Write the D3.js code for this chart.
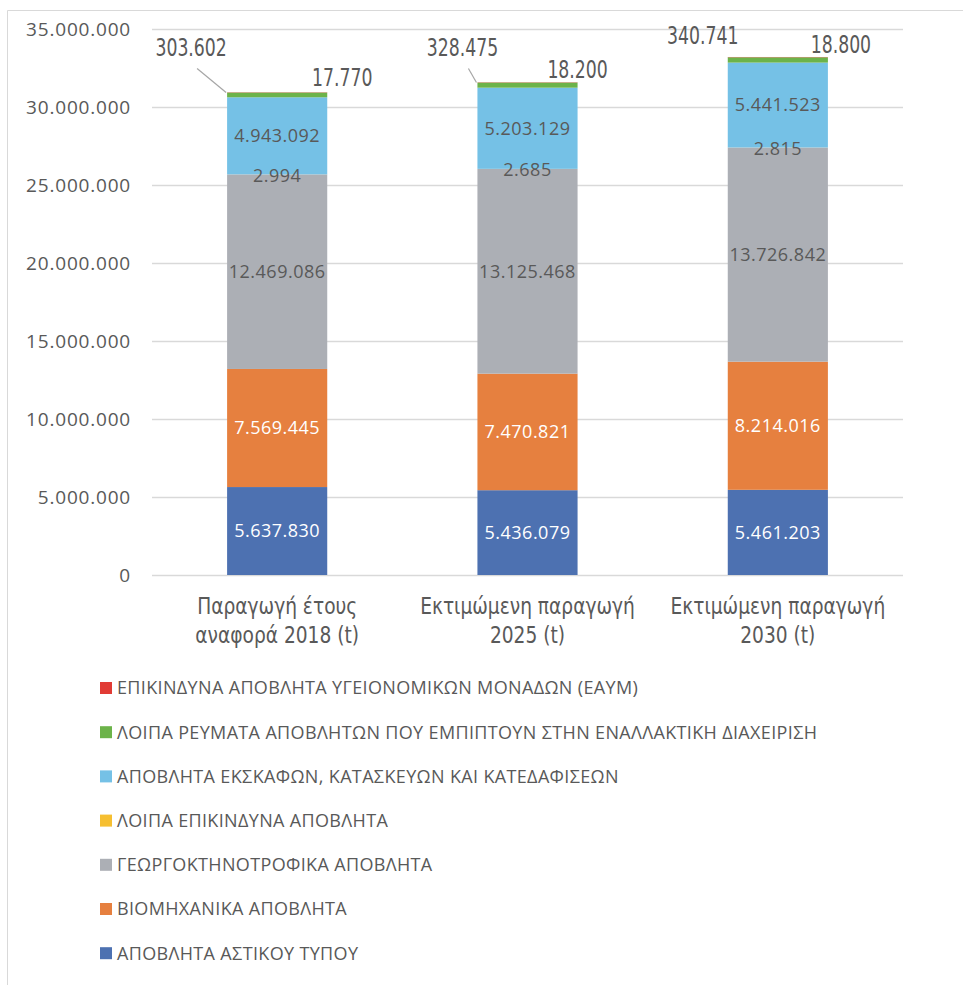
<!DOCTYPE html>
<html><head><meta charset="utf-8">
<script src="https://cdn.jsdelivr.net/npm/d3@7"></script>
<style>body{margin:0;background:#fff}svg{display:block}</style>
</head><body>
<script>
const categories = [["Παραγωγή έτους","αναφορά 2018 (t)"],["Εκτιμώμενη παραγωγή","2025 (t)"],["Εκτιμώμενη παραγωγή","2030 (t)"]];
const seriesNames = ["ΑΠΟΒΛΗΤΑ ΑΣΤΙΚΟΥ ΤΥΠΟΥ","ΒΙΟΜΗΧΑΝΙΚΑ ΑΠΟΒΛΗΤΑ","ΓΕΩΡΓΟΚΤΗΝΟΤΡΟΦΙΚΑ ΑΠΟΒΛΗΤΑ","ΛΟΙΠΑ ΕΠΙΚΙΝΔΥΝΑ ΑΠΟΒΛΗΤΑ","ΑΠΟΒΛΗΤΑ ΕΚΣΚΑΦΩΝ, ΚΑΤΑΣΚΕΥΩΝ ΚΑΙ ΚΑΤΕΔΑΦΙΣΕΩΝ","ΛΟΙΠΑ ΡΕΥΜΑΤΑ ΑΠΟΒΛΗΤΩΝ ΠΟΥ ΕΜΠΙΠΤΟΥΝ ΣΤΗΝ ΕΝΑΛΛΑΚΤΙΚΗ ΔΙΑΧΕΙΡΙΣΗ","ΕΠΙΚΙΝΔΥΝΑ ΑΠΟΒΛΗΤΑ ΥΓΕΙΟΝΟΜΙΚΩΝ ΜΟΝΑΔΩΝ (ΕΑΥΜ)"];
const astikou = [5637830, 5436079, 5461203];
const viomichanika = [7569445, 7470821, 8214016];
const georgo = [12469086, 13125468, 13726842];
const loipaEpik = [2994, 2685, 2815];
const ekskafon = [4943092, 5203129, 5441523];
const loipaRevmata = [303602, 328475, 340741];
const eaym = [17770, 18200, 18800];
const yTicks = [0,5000000,10000000,15000000,20000000,25000000,30000000,35000000];

const colors = ["#4D71B1","#E6803F","#ACAFB5","#F6BF31","#75C1E6","#6CB34A","#E13B35"];
const labelColors = ["#fff","#fff","#595959","#595959","#595959","#595959","#595959"];
const values = [astikou, viomichanika, georgo, loipaEpik, ekskafon, loipaRevmata, eaym];

const W=963,H=985;
const svg=d3.select("body").append("svg").attr("width",W).attr("height",H);
svg.append("rect").attr("width",W).attr("height",H).attr("fill","#fff");
svg.append("path").attr("d","M7.5,"+H+"V10.5H"+W).attr("fill","none").attr("stroke","#d9d9d9").attr("stroke-width",1);

const x=d3.scaleBand().domain(d3.range(3)).range([152,903]).paddingInner(0.6).paddingOuter(0.3);
const y=d3.scaleLinear().domain([0,35000000]).range([575,29]);
const fmt=v=>d3.format(",")(v).replace(/,/g,".");
const fontMain="'Open Sans', 'Noto Sans', sans-serif";
const fontNarrow="'Liberation Sans Narrow','DejaVu Sans Condensed', sans-serif";

svg.append("g").selectAll("line").data(yTicks).join("line")
 .attr("x1",152).attr("x2",903).attr("y1",d=>Math.round(y(d))+0.5).attr("y2",d=>Math.round(y(d))+0.5)
 .attr("stroke","#d9d9d9").attr("stroke-width",1.3);
const yAxis=d3.axisLeft(y).tickValues(yTicks).tickFormat(fmt).tickSize(0).tickPadding(0);
const ga=svg.append("g").attr("transform","translate(131,0)").call(yAxis);
ga.select(".domain").remove();
ga.selectAll("text").attr("font-family",fontMain).attr("font-size",19).attr("letter-spacing","0.8px").attr("fill","#595959").attr("dy","0.35em");

const rows=d3.range(3).map(i=>{const o={i};values.forEach((s,k)=>o[k]=s[i]);return o;});
const stack=d3.stack().keys(d3.range(7))(rows);
const g=svg.append("g");
stack.forEach((layer,k)=>{
  g.selectAll(null).data(layer).join("rect")
   .attr("x",d=>x(d.data.i)).attr("width",x.bandwidth())
   .attr("y",d=>y(d[1])).attr("height",d=>Math.max(0,y(d[0])-y(d[1])))
   .attr("fill",colors[k]);
});
for(let k=0;k<5;k++){
  g.selectAll(null).data(stack[k]).join("text")
   .attr("x",d=>x(d.data.i)+x.bandwidth()/2)
   .attr("y",d=>k===3?y(d[1])+1:(y(d[0])+y(d[1]))/2)
   .attr("dy","0.35em").attr("text-anchor","middle")
   .attr("font-family",fontMain).attr("font-size",18).attr("letter-spacing","0.5px").attr("fill",labelColors[k])
   .text(d=>fmt(d.data[k]));
}
const greenOff=[[-36,-45,true],[-15,-35,true],[-25,-22,false]];
const redOff=[[15,-15],[0,-13],[13,-12]];
function narrowText(px,py,txt){
  svg.append("text").attr("transform",`translate(${px},${py}) scale(0.8,1)`).attr("dy","0.35em").attr("text-anchor","middle")
   .attr("font-family",fontNarrow).attr("font-size",24).attr("fill","#595959").text(txt);
}
stack[5].forEach((d,i)=>{
  const bx=x(i), by=y(d[1]);
  const lx=bx+greenOff[i][0], ly=by+greenOff[i][1];
  if(greenOff[i][2]){
    svg.append("line").attr("x1",lx+6).attr("y1",ly+21).attr("x2",bx-1).attr("y2",by)
      .attr("stroke","#a6a6a6").attr("stroke-width",1.2);
  }
  narrowText(lx,ly,fmt(d.data[5]));
});
stack[6].forEach((d,i)=>{
  const bx=x(i)+x.bandwidth(), by=y(d[1]);
  narrowText(bx+redOff[i][0],by+redOff[i][1],fmt(d.data[6]));
});
categories.forEach((c,i)=>{
  const cx=x(i)+x.bandwidth()/2;
  c.forEach((line,j)=>{
    svg.append("text").attr("transform",`translate(${cx},${614+j*29}) scale(0.9,1)`).attr("text-anchor","middle")
     .attr("font-family",fontNarrow).attr("font-size",23).attr("fill","#595959").text(line);
  });
});
const legOrder=d3.range(6,-1,-1);
const lg=svg.append("g").selectAll("g").data(legOrder).join("g")
 .attr("transform",(d,j)=>`translate(100,${688+j*44.2})`);
lg.append("rect").attr("x",0).attr("y",-6).attr("width",12).attr("height",12).attr("fill",d=>colors[d]);
lg.append("text").attr("x",17).attr("dy","0.35em").attr("font-family",fontMain).attr("font-size",18).attr("letter-spacing","0.35px").attr("fill","#595959").text(d=>seriesNames[d]);
</script>
</body></html>
